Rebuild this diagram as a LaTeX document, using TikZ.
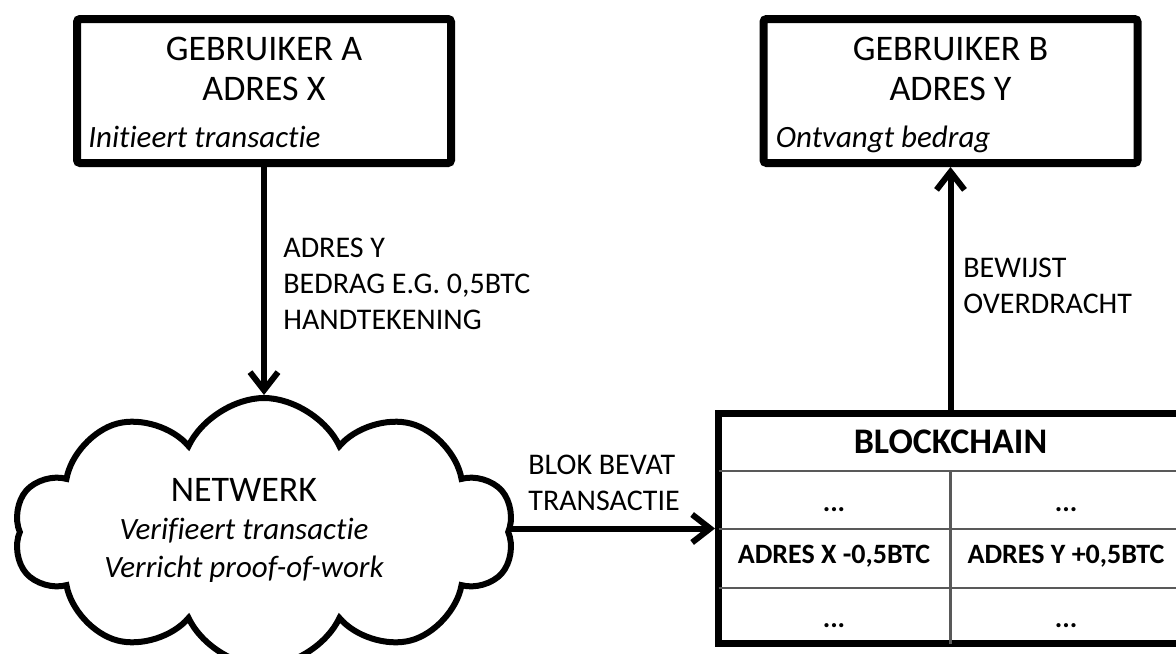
\documentclass[tikz,border=0pt]{standalone}
\usepackage{fontspec}
\setmainfont{Carlito}[Ligatures=NoCommon]
\usetikzlibrary{arrows.meta,shapes.symbols}

\begin{document}
\begin{tikzpicture}
[
	gebruiker/.style={draw,line width=4pt,rounded corners=1.5pt,minimum width=187pt,minimum height=72pt,inner sep=0pt},
	kop/.style={font=\fontsize{18}{20}\selectfont,align=center,inner sep=0pt,anchor=north},
	rol/.style={font=\fontsize{15.5}{18}\selectfont\itshape,inner sep=0pt,anchor=base west},
	uitleg/.style={font=\fontsize{15}{18}\selectfont,align=left,inner sep=0pt,anchor=north west},
	wolk/.style={cloud,draw,line width=3pt,cloud puffs=10,cloud puff arc=130,shape border rotate=18,cloud ignores aspect,minimum width=250pt,minimum height=134pt,inner sep=0pt},
	cel/.style={font=\fontsize{14}{16}\selectfont\bfseries,inner sep=0pt,anchor=base},
	pijl/.style={line width=3pt,-{Straight Barb[length=9pt,width=14pt]}},
	x=0.5pt,
	y=-0.5pt
]

	\useasboundingbox (0,0) rectangle (1176,653);

	% gebruikers
	\node[gebruiker] (gebruikerA) at (264,91) {};
	\node[kop] (kopA) at (264,37) {GEBRUIKER A\\ADRES X};
	\node[rol] (rolA) at ([xshift=7.5pt,yshift=10pt]gebruikerA.south west) {Initieert transactie};

	\node[gebruiker] (gebruikerB) at (950.5,91) {};
	\node[kop] (kopB) at (950.5,37) {GEBRUIKER B\\ADRES Y};
	\node[rol] (rolB) at ([xshift=8pt,yshift=10pt]gebruikerB.south west) {Ontvangt bedrag};

	% netwerk
	\node[wolk] (netwerk) at (264,532) {};
	\node[kop,font=\fontsize{18}{19}\selectfont] (netwerktekst) at (244,478)
	  {NETWERK\\{\fontsize{15.5}{19}\selectfont\itshape Verifieert transactie}\\{\fontsize{15.5}{19}\selectfont\itshape Verricht proof-of-work}};

	% blockchain
	\node[draw,line width=3.5pt,minimum width=232pt,minimum height=115pt,inner sep=0pt] (blockchain) at (950.5,528.5) {};
	\draw[black!65,line width=1.1pt]
	  (718.5,470.7) -- (1182.5,470.7)
	  (718.5,529.3) -- (1182.5,529.3)
	  (718.5,588.3) -- (1182.5,588.3)
	  (950.5,470.7) -- (950.5,643.5)
	;
	\node[cel,font=\fontsize{18}{20}\selectfont\bfseries] (blockkop) at (950.5,453) {BLOCKCHAIN};
	\node[cel] (rij1a) at (834,511) {...};
	\node[cel] (rij1b) at (1066,511) {...};
	\node[cel] (rij2a) at (834,563) {ADRES X -0,5BTC};
	\node[cel] (rij2b) at (1066,563) {ADRES Y +0,5BTC};
	\node[cel] (rij3a) at (834,627) {...};
	\node[cel] (rij3b) at (1066,627) {...};

	% pijlen
	\draw[pijl] (gebruikerA.south) -- (netwerk.north);
	\draw[pijl] (netwerk.east |- blockchain.west) -- (blockchain.west);
	\draw[pijl] (blockchain.north) -- (gebruikerB.south);

	\node[uitleg] (transactie) at (283,238) {ADRES Y\\BEDRAG E.G. 0,5BTC\\HANDTEKENING};
	\node[uitleg] (blok) at (528,455) {BLOK BEVAT\\TRANSACTIE};
	\node[uitleg] (bewijs) at (963,258) {BEWIJST\\OVERDRACHT};

\end{tikzpicture}
\end{document}
